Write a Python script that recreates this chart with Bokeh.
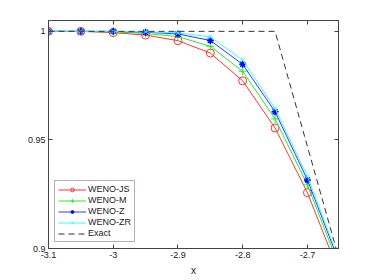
from bokeh.plotting import figure
from bokeh.models import Range1d, FixedTicker, CustomJSTickFormatter, LinearAxis, Legend, LegendItem
from bokeh.embed import file_html
from bokeh.resources import INLINE

x = [-3.1, -3.05, -3.0, -2.95, -2.9, -2.85, -2.8, -2.75, -2.7, -2.65]
weno_js = [1.0, 1.0, 0.9994, 0.9983, 0.9957, 0.9900, 0.9772, 0.9555, 0.9257, 0.888]
weno_m = [1.0, 1.0, 0.9998, 0.9990, 0.9976, 0.9931, 0.9816, 0.9597, 0.9293, 0.891]
weno_z = [1.0, 1.0, 1.0, 0.9996, 0.9988, 0.9958, 0.9848, 0.9630, 0.9316, 0.893]
weno_zr = [1.0, 1.0, 1.0, 0.9998, 0.9993, 0.9975, 0.9868, 0.9645, 0.9332, 0.894]
exact_x = [-3.1, -2.75, -2.65]
exact_y = [1.0, 1.0, 0.894]
xticks = [-3.1, -3.0, -2.9, -2.8, -2.7]
yticks = [0.9, 0.95, 1.0]

FONT = "Liberation Sans"
AX = "#444444"

p = figure(width=370, height=278, output_backend="svg", toolbar_location=None,
           x_range=Range1d(-3.1, -2.652), y_range=Range1d(0.9, 1.005),
           min_border_left=48, min_border_right=32, min_border_top=20, min_border_bottom=29)
p.xgrid.visible = False
p.ygrid.visible = False
p.outline_line_color = AX
p.background_fill_color = "white"
p.border_fill_color = "white"

fmt = CustomJSTickFormatter(code="return String(Math.round(tick*1000)/1000)")
blank = CustomJSTickFormatter(code="return ''")

def style(ax):
    ax.axis_line_color = AX
    ax.major_tick_line_color = AX
    ax.major_tick_in = 4
    ax.major_tick_out = 0
    ax.minor_tick_line_color = None
    ax.major_label_text_font = FONT
    ax.major_label_text_font_size = "9px"
    ax.major_label_text_color = "#222222"
    ax.major_label_standoff = 3

p.xaxis.ticker = FixedTicker(ticks=xticks)
p.yaxis.ticker = FixedTicker(ticks=yticks)
p.xaxis.formatter = fmt
p.yaxis.formatter = fmt
style(p.xaxis[0])
style(p.yaxis[0])
p.xaxis.axis_label = "x"
p.xaxis.axis_label_text_font = FONT
p.xaxis.axis_label_text_font_size = "10px"
p.xaxis.axis_label_text_font_style = "normal"
p.xaxis.axis_label_standoff = 4
p.xaxis.axis_label_text_color = "#222222"

top = LinearAxis(ticker=FixedTicker(ticks=xticks), formatter=blank)
style(top)
top.major_label_standoff = 0
right = LinearAxis(ticker=FixedTicker(ticks=yticks), formatter=blank)
style(right)
right.major_label_standoff = 0
p.add_layout(top, "above")
p.add_layout(right, "right")

lw = 1
r_js = p.line(x, weno_js, color="#ff3333", line_width=lw)
m_js = p.scatter(x, weno_js, marker="circle", size=8, fill_color=None, line_color="#ff3333", line_width=1)
r_m = p.line(x, weno_m, color="#22ee22", line_width=lw)
m_m = p.scatter(x, weno_m, marker="cross", size=8, line_color="#22ee22", line_width=1)
r_z = p.line(x, weno_z, color="#3333ff", line_width=lw)
m_z = p.scatter(x, weno_z, marker="asterisk", size=7, line_color="#0000ff", line_width=1.5)
r_zr = p.line(x, weno_zr, color="#33ffff", line_width=lw)
m_zr = p.scatter(x, weno_zr, marker="x", size=6, line_color="#33ffff", line_width=1)
r_ex = p.line(exact_x, exact_y, color="#333333", line_width=1, line_dash="6 4")

legend = Legend(items=[
    LegendItem(label="WENO-JS", renderers=[r_js, m_js]),
    LegendItem(label="WENO-M", renderers=[r_m, m_m]),
    LegendItem(label="WENO-Z", renderers=[r_z, m_z]),
    LegendItem(label="WENO-ZR", renderers=[r_zr, m_zr]),
    LegendItem(label="Exact", renderers=[r_ex]),
], location="bottom_left")
legend.margin = 6
legend.padding = 3
legend.spacing = 1
legend.glyph_width = 28
legend.glyph_height = 9
legend.label_height = 9
legend.label_standoff = 2
legend.label_text_font = FONT
legend.label_text_font_size = "9px"
legend.label_text_color = "#222222"
legend.border_line_color = "#666666"
legend.border_line_width = 1
legend.background_fill_alpha = 1
p.add_layout(legend, "center")

open("out.html", "w").write(file_html(p, INLINE))
